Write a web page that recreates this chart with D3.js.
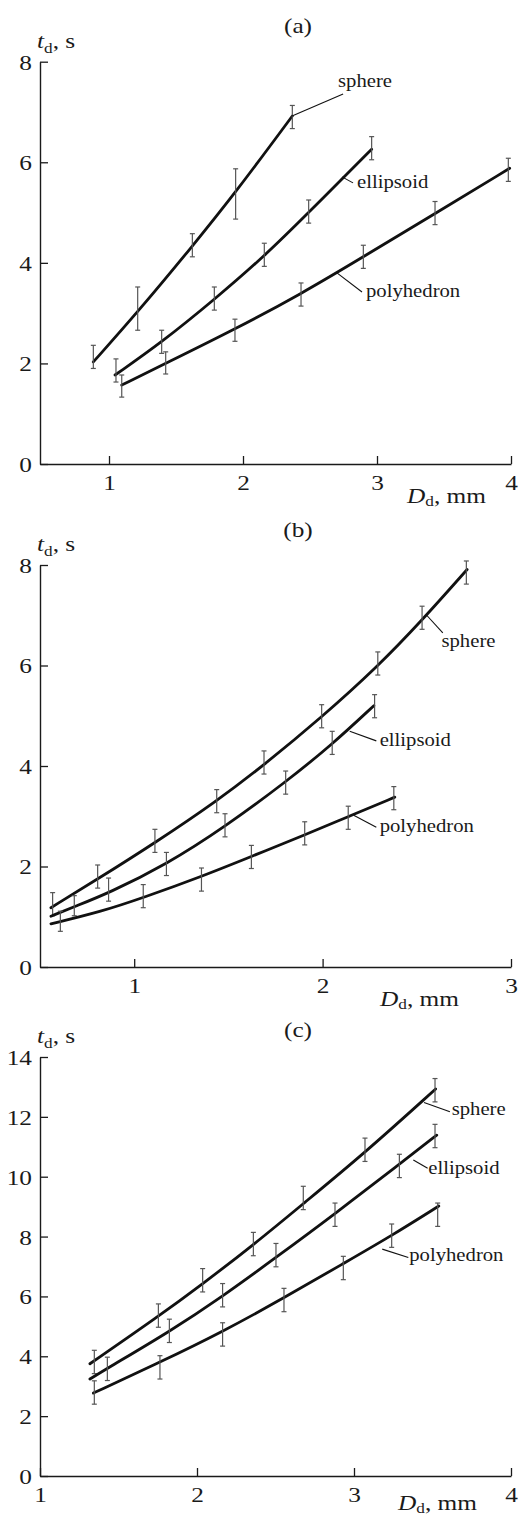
<!DOCTYPE html>
<html>
<head>
<meta charset="utf-8">
<script src="https://cdn.jsdelivr.net/npm/d3@7"></script>
<style>
  body { margin: 0; background: #fff; }
  svg { display: block; }
</style>
</head>
<body>
<script>
// ---------- data, panel (a)
const aXTicks = [1, 2, 3, 4];
const aYTicks = [0, 2, 4, 6, 8];
const aSphereLine = [[0.883, 2.03], [1.214, 3.02], [1.622, 4.33], [1.945, 5.40], [2.368, 6.92]];
const aSphereBars = [[0.883, 2.13, 0.23], [1.214, 3.09, 0.43], [1.622, 4.35, 0.23], [1.945, 5.37, 0.50], [2.368, 6.90, 0.23]];
const aEllipsoidLine = [[1.045, 1.77], [1.393, 2.42], [1.786, 3.27], [2.159, 4.13], [2.49, 5.00], [2.96, 6.26]];
const aEllipsoidBars = [[1.052, 1.86, 0.23], [1.393, 2.43, 0.23], [1.786, 3.29, 0.23], [2.159, 4.16, 0.23], [2.49, 5.02, 0.23], [2.96, 6.28, 0.23]];
const aPolyLine = [[1.095, 1.57], [1.423, 2.00], [1.94, 2.68], [2.433, 3.38], [2.898, 4.12], [3.433, 4.98], [3.99, 5.88]];
const aPolyBars = [[1.095, 1.55, 0.22], [1.423, 2.01, 0.22], [1.94, 2.66, 0.22], [2.433, 3.37, 0.23], [2.898, 4.12, 0.23], [3.433, 4.99, 0.23], [3.98, 5.85, 0.23]];

// ---------- data, panel (b)
const bXTicks = [1, 2, 3];
const bYTicks = [0, 2, 4, 6, 8];
const bSphereLine = [[0.558, 1.18], [0.806, 1.75], [1.11, 2.47], [1.438, 3.30], [1.689, 4.02], [1.995, 4.97], [2.293, 5.98], [2.528, 6.90], [2.767, 7.91]];
const bSphereBars = [[0.567, 1.25, 0.23], [0.806, 1.80, 0.23], [1.11, 2.51, 0.23], [1.438, 3.30, 0.23], [1.689, 4.07, 0.23], [1.995, 4.99, 0.23], [2.293, 6.04, 0.23], [2.528, 6.95, 0.23], [2.763, 7.85, 0.23]];
const bEllipsoidLine = [[0.558, 1.01], [0.682, 1.20], [0.864, 1.47], [1.171, 2.04], [1.482, 2.79], [1.804, 3.68], [2.051, 4.43], [2.272, 5.20]];
const bEllipsoidBars = [[0.682, 1.22, 0.2], [0.864, 1.54, 0.23], [1.171, 2.05, 0.23], [1.482, 2.82, 0.23], [1.804, 3.67, 0.23], [2.051, 4.46, 0.23], [2.276, 5.19, 0.23]];
const bPolyLine = [[0.558, 0.86], [0.823, 1.10], [1.048, 1.38], [1.357, 1.80], [1.622, 2.20], [1.905, 2.63], [2.136, 2.99], [2.383, 3.38]];
const bPolyBars = [[0.608, 0.91, 0.2], [1.048, 1.41, 0.23], [1.357, 1.74, 0.23], [1.622, 2.19, 0.23], [1.905, 2.66, 0.23], [2.136, 2.97, 0.23], [2.378, 3.36, 0.23]];

// ---------- data, panel (c)
const cXTicks = [1, 2, 3, 4];
const cYTicks = [0, 2, 4, 6, 8, 10, 12, 14];
const cSphereLine = [[1.318, 3.75], [1.754, 5.33], [2.036, 6.42], [2.359, 7.72], [2.677, 9.10], [3.07, 10.80], [3.52, 12.93]];
const cSphereBars = [[1.346, 3.81, 0.39], [1.754, 5.36, 0.39], [2.036, 6.54, 0.39], [2.359, 7.75, 0.39], [2.677, 9.29, 0.39], [3.07, 10.90, 0.39], [3.516, 12.89, 0.39]];
const cEllipsoidLine = [[1.318, 3.24], [1.429, 3.60], [1.824, 4.82], [2.163, 6.00], [2.503, 7.30], [2.879, 8.76], [3.289, 10.42], [3.527, 11.39]];
const cEllipsoidBars = [[1.429, 3.58, 0.39], [1.824, 4.85, 0.39], [2.163, 6.04, 0.39], [2.503, 7.38, 0.39], [2.879, 8.73, 0.39], [3.289, 10.36, 0.39], [3.516, 11.36, 0.39]];
const cPolyLine = [[1.34, 2.77], [1.764, 3.80], [2.163, 4.82], [2.554, 5.95], [2.932, 7.10], [3.24, 8.03], [3.54, 9.02]];
const cPolyBars = [[1.346, 2.79, 0.39], [1.764, 3.63, 0.39], [2.163, 4.73, 0.39], [2.554, 5.88, 0.39], [2.932, 6.95, 0.39], [3.24, 8.03, 0.39], [3.533, 8.73, 0.39]];

const seriesNames = ['sphere', 'ellipsoid', 'polyhedron'];

// ---------- layout
const W = 519, H = 1518;
const FONT = "'Liberation Serif', 'Times New Roman', serif";
const SX = 1.15;          // glyphs in the scan are a bit wide
const INK = '#1a1a1a';

const panels = [
  {
    tag: '(a)', titleY: 33, xRange: [40, 511], xDomain: [0.485, 4], yRange: [464, 61.7], yDomain: [0, 8],
    xTicks: aXTicks, yTicks: aYTicks, xTitleX: 407, xTitleDy: 39,
    lines: [aSphereLine, aEllipsoidLine, aPolyLine], bars: [aSphereBars, aEllipsoidBars, aPolyBars],
    notes: [
      { from: [2.366, 6.92], to: [2.747, 7.36], text: [2.709, 7.50] },
      { from: [2.739, 5.71], to: [2.821, 5.59], text: [2.851, 5.49] },
      { from: [2.701, 3.80], to: [2.888, 3.42], text: [2.918, 3.32] }
    ]
  },
  {
    tag: '(b)', titleY: 537, xRange: [40, 511], xDomain: [0.5, 3], yRange: [967, 565], yDomain: [0, 8],
    xTicks: bXTicks, yTicks: bYTicks, xTitleX: 380, xTitleDy: 39,
    lines: [bSphereLine, bEllipsoidLine, bPolyLine], bars: [bSphereBars, bEllipsoidBars, bPolyBars],
    notes: [
      { from: [2.55, 7.01], to: [2.638, 6.65], text: [2.631, 6.36] },
      { from: [2.144, 4.69], to: [2.285, 4.50], text: [2.303, 4.39] },
      { from: [2.165, 3.02], to: [2.285, 2.78], text: [2.303, 2.68] }
    ]
  },
  {
    tag: '(c)', titleY: 1037, xRange: [40, 511], xDomain: [1, 4], yRange: [1476, 1057], yDomain: [0, 14],
    xTicks: cXTicks, yTicks: cYTicks, xTitleX: 398, xTitleDy: 34,
    lines: [cSphereLine, cEllipsoidLine, cPolyLine], bars: [cSphereBars, cEllipsoidBars, cPolyBars],
    notes: [
      { from: [3.446, 12.48], to: [3.611, 12.17], text: [3.622, 12.06] },
      { from: [3.378, 10.56], to: [3.469, 10.28], text: [3.473, 10.08] },
      { from: [3.18, 7.58], to: [3.346, 7.30], text: [3.352, 7.20] }
    ]
  }
];

const svg = d3.select('body')
  .append('svg')
  .attr('width', W)
  .attr('height', H)
  .attr('font-family', FONT);

function place(x, y) {
  return `translate(${x},${y}) scale(${SX},1)`;
}

panels.forEach(p => {
  const x = d3.scaleLinear().domain(p.xDomain).range(p.xRange);
  const y = d3.scaleLinear().domain(p.yDomain).range(p.yRange);
  const g = svg.append('g');
  const x0 = p.yRange[0], top = p.yRange[1];

  // axes, ticks pointing inward
  const xAxis = g.append('g')
    .attr('transform', `translate(0,${x0})`)
    .call(d3.axisBottom(x).tickValues(p.xTicks).tickSizeInner(-8).tickSizeOuter(0).tickPadding(10).tickFormat(d3.format('d')));
  const yAxis = g.append('g')
    .attr('transform', `translate(${p.xRange[0]},0)`)
    .call(d3.axisLeft(y).tickValues(p.yTicks).tickSizeInner(-8).tickSizeOuter(0).tickPadding(8).tickFormat(d3.format('d')));

  [xAxis, yAxis].forEach(ax => {
    ax.attr('font-family', FONT).attr('font-size', 22);
    ax.select('.domain').attr('stroke', INK).attr('stroke-width', 1.4);
    ax.selectAll('.tick line').attr('stroke', INK).attr('stroke-width', 1.3);
    ax.selectAll('.tick text').attr('fill', INK)
      .attr('transform', `scale(${SX},1)`);
  });
  yAxis.selectAll('.tick text').attr('x', -8 / SX).attr('dy', '0.34em');

  // panel tag
  g.append('text')
    .attr('transform', place(298, p.titleY))
    .attr('text-anchor', 'middle')
    .attr('font-size', 22)
    .attr('fill', INK)
    .text(p.tag);

  // y title: t_d, s
  const yt = g.append('text')
    .attr('transform', place(37, top - 14))
    .attr('font-size', 22)
    .attr('fill', INK);
  yt.append('tspan').attr('font-style', 'italic').text('t');
  yt.append('tspan').attr('font-size', 15).attr('dy', 5).text('d');
  yt.append('tspan').attr('dy', -5).text(', s');

  // x title: D_d, mm
  const xt = g.append('text')
    .attr('transform', place(p.xTitleX, x0 + p.xTitleDy))
    .attr('font-size', 22)
    .attr('fill', INK);
  xt.append('tspan').attr('font-style', 'italic').text('D');
  xt.append('tspan').attr('font-size', 15).attr('dy', 3).text('d');
  xt.append('tspan').attr('dy', -3).text(', mm');

  const line = d3.line()
    .x(d => x(d[0]))
    .y(d => y(d[1]))
    .curve(d3.curveBasis);

  p.lines.forEach((pts, i) => {
    g.append('path')
      .datum(pts)
      .attr('d', line)
      .attr('fill', 'none')
      .attr('stroke', '#111')
      .attr('stroke-width', 2.8)
      .attr('stroke-linecap', 'round');

    const eb = g.append('g')
      .attr('stroke', '#555')
      .attr('stroke-width', 1.2);
    eb.selectAll('line.v')
      .data(p.bars[i])
      .enter()
      .append('line')
      .attr('x1', d => x(d[0])).attr('x2', d => x(d[0]))
      .attr('y1', d => y(d[1] - d[2])).attr('y2', d => y(d[1] + d[2]));
    eb.selectAll('line.t')
      .data(p.bars[i].flatMap(d => [[d[0], d[1] + d[2]], [d[0], d[1] - d[2]]]))
      .enter()
      .append('line')
      .attr('x1', d => x(d[0]) - 2.5).attr('x2', d => x(d[0]) + 2.5)
      .attr('y1', d => y(d[1])).attr('y2', d => y(d[1]));

    const n = p.notes[i];
    g.append('line')
      .attr('x1', x(n.from[0])).attr('y1', y(n.from[1]))
      .attr('x2', x(n.to[0])).attr('y2', y(n.to[1]))
      .attr('stroke', '#111')
      .attr('stroke-width', 1.1);
    g.append('text')
      .attr('transform', place(x(n.text[0]), y(n.text[1])))
      .attr('font-size', 18)
      .attr('fill', INK)
      .text(seriesNames[i]);
  });
});
</script>
</body>
</html>
